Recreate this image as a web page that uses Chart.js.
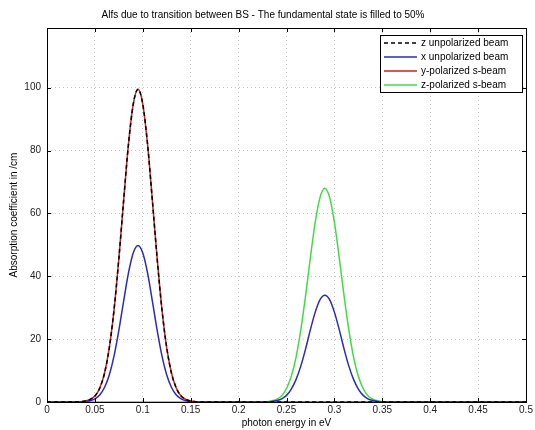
<!DOCTYPE html>
<html>
<head>
<meta charset="utf-8">
<script src="https://cdn.jsdelivr.net/npm/chart.js@4.4.1/dist/chart.umd.min.js"></script>
<style>
  html, body { margin: 0; padding: 0; background: #fff; }
  #wrap { width: 535px; height: 430px; }
</style>
</head>
<body>
<div id="wrap"><canvas id="alfsChart" width="535" height="430"></canvas></div>
<script>
// photon energy (eV) sample points
const energy = [
    0, 0.035, 0.04, 0.045, 0.05, 0.055, 0.06, 0.065, 0.07, 0.075, 0.08, 0.085, 0.09,
    0.095, 0.1, 0.105, 0.11, 0.115, 0.12, 0.125, 0.13, 0.135, 0.14, 0.145, 0.15, 0.155, 0.16,
    0.2,
    0.225, 0.23, 0.235, 0.24, 0.245, 0.25, 0.255, 0.26, 0.265, 0.27, 0.275, 0.28, 0.285,
    0.29, 0.295, 0.3, 0.305, 0.31, 0.315, 0.32, 0.325, 0.33, 0.335, 0.34, 0.345, 0.35, 0.355,
    0.5
];

// z unpolarized beam (same as y-polarized s-beam)
const zUnpolarized = [
    0, 0.1, 0.3, 0.8, 1.9, 4.4, 9.1, 17.2, 29.4, 45.6, 64.1, 81.9, 94.7,
    99.5, 94.7, 81.9, 64.1, 45.6, 29.4, 17.2, 9.1, 4.4, 1.9, 0.8, 0.3, 0.1, 0,
    0,
    0, 0, 0, 0, 0, 0, 0, 0, 0, 0, 0, 0, 0,
    0, 0, 0, 0, 0, 0, 0, 0, 0, 0, 0, 0, 0, 0,
    0
];

const xUnpolarized = [
    0, 0.05, 0.15, 0.4, 1.0, 2.2, 4.6, 8.6, 14.7, 22.8, 32.1, 41.0, 47.4,
    49.8, 47.4, 41.0, 32.1, 22.8, 14.7, 8.6, 4.6, 2.2, 1.0, 0.4, 0.15, 0.05, 0,
    0,
    0, 0.05, 0.2, 0.45, 1.0, 2.1, 4.1, 7.2, 11.5, 17.0, 23.1, 28.6, 32.6,
    34.0, 32.6, 28.6, 23.1, 17.0, 11.5, 7.2, 4.1, 2.1, 1.0, 0.45, 0.2, 0.05, 0,
    0
];

const yPolarized = [
    0, 0.1, 0.3, 0.8, 1.9, 4.4, 9.1, 17.2, 29.4, 45.6, 64.1, 81.9, 94.7,
    99.5, 94.7, 81.9, 64.1, 45.6, 29.4, 17.2, 9.1, 4.4, 1.9, 0.8, 0.3, 0.1, 0,
    0,
    0, 0, 0, 0, 0, 0, 0, 0, 0, 0, 0, 0, 0,
    0, 0, 0, 0, 0, 0, 0, 0, 0, 0, 0, 0, 0, 0,
    0
];

const zPolarized = [
    0, 0, 0, 0, 0, 0, 0, 0, 0, 0, 0, 0, 0,
    0, 0, 0, 0, 0, 0, 0, 0, 0, 0, 0, 0, 0, 0,
    0,
    0, 0.1, 0.4, 0.9, 2.0, 4.3, 8.2, 14.3, 23.1, 34.0, 46.1, 57.2, 65.1,
    68.0, 65.1, 57.2, 46.1, 34.0, 23.1, 14.3, 8.2, 4.3, 2.0, 0.9, 0.4, 0.1, 0,
    0
];

const seriesLabels = ['z unpolarized beam', 'x unpolarized beam', 'y-polarized s-beam', 'z-polarized s-beam'];
const yTicks = [0, 20, 40, 60, 80, 100];

const FONT = '"Liberation Sans", Arial, sans-serif';

function points(values) {
    return energy.map((e, i) => ({ x: e, y: values[i] }));
}

// legend drawn inside the axes, top right, like matlab
const insideLegend = {
    id: 'insideLegend',
    afterDraw(chart) {
        const ctx = chart.ctx;
        const area = chart.chartArea;
        const sets = chart.data.datasets;
        const w = 142, rowH = 14, h = sets.length * rowH + 1;
        const x0 = Math.round(area.right - w - 4), y0 = Math.round(area.top + 7);
        ctx.save();
        ctx.fillStyle = '#fff';
        ctx.fillRect(x0, y0, w, h);
        ctx.strokeStyle = '#000';
        ctx.lineWidth = 1;
        ctx.strokeRect(x0 + 0.5, y0 + 0.5, w, h);
        ctx.font = '10px ' + FONT;
        ctx.textBaseline = 'middle';
        sets.forEach((ds, i) => {
            const y = y0 + 8 + i * rowH;
            ctx.strokeStyle = ds.borderColor;
            ctx.lineWidth = ds.borderWidth;
            ctx.setLineDash(ds.borderDash || []);
            ctx.beginPath();
            ctx.moveTo(x0 + 4, y);
            ctx.lineTo(x0 + 37, y);
            ctx.stroke();
            ctx.setLineDash([]);
            ctx.fillStyle = '#000';
            ctx.fillText(ds.label, x0 + 41, y);
        });
        ctx.restore();
    }
};

// axes box + inward tick marks
const axesBox = {
    id: 'axesBox',
    afterDatasetsDraw(chart) {
        const ctx = chart.ctx;
        const a = chart.chartArea;
        ctx.save();
        ctx.strokeStyle = '#000';
        ctx.lineWidth = 1;
        ctx.beginPath();
        chart.scales.x.ticks.forEach(t => {
            const px = Math.round(chart.scales.x.getPixelForValue(t.value)) + 0.5;
            ctx.moveTo(px, a.bottom); ctx.lineTo(px, a.bottom - 4);
            ctx.moveTo(px, a.top); ctx.lineTo(px, a.top + 4);
        });
        chart.scales.y.ticks.forEach(t => {
            const py = Math.round(chart.scales.y.getPixelForValue(t.value)) + 0.5;
            ctx.moveTo(a.left, py); ctx.lineTo(a.left + 4, py);
            ctx.moveTo(a.right, py); ctx.lineTo(a.right - 4, py);
        });
        ctx.stroke();
        ctx.strokeRect(Math.round(a.left) + 0.5, Math.round(a.top) + 0.5,
            Math.round(a.right - a.left), Math.round(a.bottom - a.top));
        ctx.restore();
    }
};

const colors = ['#000000', '#2b2bb8', '#d02020', '#40dd40'];

const datasets = [zUnpolarized, xUnpolarized, yPolarized, zPolarized].map((vals, i) => ({
    label: seriesLabels[i],
    data: points(vals),
    borderColor: colors[i],
    backgroundColor: colors[i],
    borderWidth: 1.5,
    borderDash: i === 0 ? [4, 3] : [],
    pointRadius: 0,
    cubicInterpolationMode: 'monotone',
    fill: false
}));

new Chart(document.getElementById('alfsChart').getContext('2d'), {
    type: 'line',
    data: { datasets },
    options: {
        responsive: false,
        animation: false,
        devicePixelRatio: 1,
        layout: { padding: { left: 0, right: 9, top: 0, bottom: 0 } },
        plugins: {
            legend: { display: false },
            tooltip: { enabled: false },
            title: {
                display: true,
                text: 'Alfs due to transition between BS - The fundamental state is filled to 50%',
                color: '#000',
                font: { family: FONT, size: 10, weight: 'normal' },
                padding: { top: 9, bottom: 7 }
            }
        },
        scales: {
            x: {
                type: 'linear',
                min: 0,
                max: 0.5,
                afterFit: s => { s.height = 28; },
                ticks: {
                    stepSize: 0.05,
                    color: '#222',
                    font: { family: FONT, size: 10 },
                    padding: 2,
                    maxRotation: 0,
                    callback: v => String(+v.toFixed(2))
                },
                grid: { color: 'rgba(0,0,0,0.22)', tickLength: 0 },
                border: { display: false, dash: [1, 3] },
                title: {
                    display: true,
                    text: 'photon energy in eV',
                    color: '#000',
                    font: { family: FONT, size: 10 },
                    padding: { top: 0, bottom: 1 }
                }
            },
            y: {
                type: 'linear',
                min: 0,
                max: 119,
                afterFit: s => { s.width = 47; },
                afterBuildTicks: s => { s.ticks = yTicks.map(v => ({ value: v })); },
                ticks: {
                    color: '#222',
                    font: { family: FONT, size: 10 },
                    padding: 6
                },
                grid: { color: 'rgba(0,0,0,0.22)', tickLength: 0 },
                border: { display: false, dash: [1, 3] },
                title: {
                    display: true,
                    text: 'Absorption coefficient in /cm',
                    color: '#000',
                    font: { family: FONT, size: 10 },
                    padding: { top: 8, bottom: 0 }
                }
            }
        }
    },
    plugins: [axesBox, insideLegend]
});
</script>
</body>
</html>
